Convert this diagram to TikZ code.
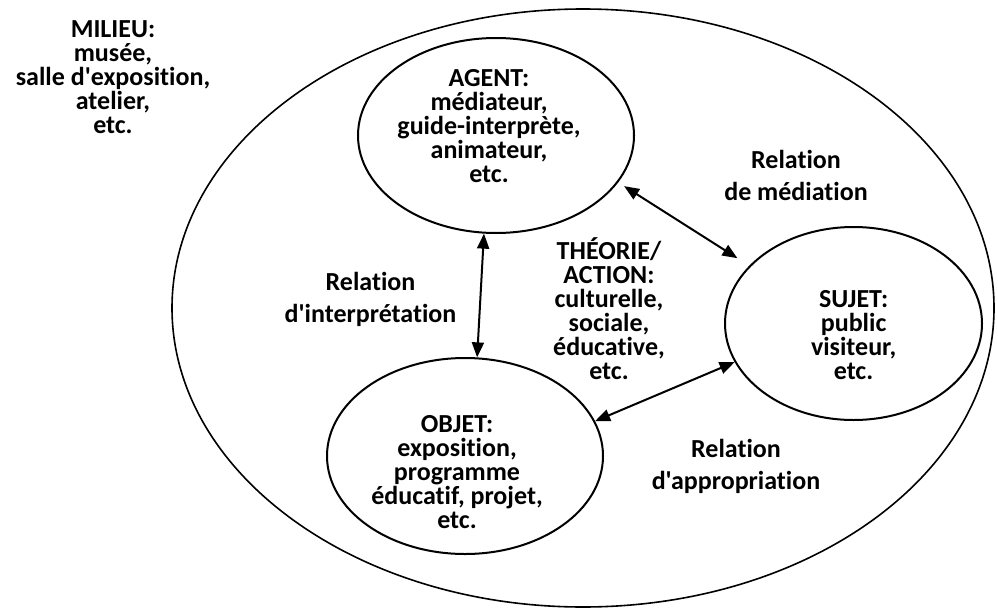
\documentclass[tikz,border=0pt]{standalone}
\usepackage{fontspec}
\setmainfont{Carlito}[Ligatures={TeXOff,CommonOff}]
\usetikzlibrary{shapes.geometric,arrows.meta}
\begin{document}
\begin{tikzpicture}[x=1pt,y=-1pt,
	cercle/.style={draw,ellipse,line width=2pt,inner sep=0pt},
	bloc/.style={align=center,inner sep=0pt,font=\bfseries\fontsize{26}{24}\selectfont},
	relation/.style={align=center,inner sep=0pt,font=\bfseries\fontsize{26}{32}\selectfont},
	lien/.style={{Triangle[length=15pt,width=12pt]}-{Triangle[length=15pt,width=12pt]},line width=2pt}]
\useasboundingbox (0,0) rectangle (998,610);
\node[cercle,line width=1.6pt,minimum width=822pt,minimum height=598pt] (milieu) at (583,308) {};
\node[cercle,minimum width=276pt,minimum height=195pt] (agent) at (496,135.5) {};
\node[cercle,minimum width=257pt,minimum height=193pt] (sujet) at (853.5,323.5) {};
\node[cercle,minimum width=276pt,minimum height=196pt] (objet) at (465,456) {};
\node[bloc] (milieutxt) at (113,77.5) {MILIEU:\\musée,\\salle d'exposition,\\atelier,\\etc.};
\node[bloc] (agenttxt) at (489,126) {AGENT:\\médiateur,\\guide-interprète,\\animateur,\\etc.};
\node[bloc] (sujettxt) at (853.6,335.5) {SUJET:\\public\\visiteur,\\etc.};
\node[bloc] (objettxt) at (457,472) {OBJET:\\exposition,\\programme\\éducatif, projet,\\etc.};
\node[bloc] (theorie) at (609,308.5) {THÉORIE/\\ACTION:\\culturelle,\\sociale,\\éducative,\\etc.};
\node[relation] (mediation) at (796,175.5) {Relation\\de médiation};
\node[relation] (interpretation) at (370.5,299) {Relation\\d'interprétation};
\node[relation] (appropriation) at (736,466) {Relation\\d'appropriation};
\draw[lien,shorten <=7pt,shorten >=14pt] (agent.-21.7) -- (sujet.151.4);
\draw[lien] (agent.-97.5) -- (objet.83.5);
\draw[lien] (sujet.198.3) -- (objet.15.6);
\end{tikzpicture}
\end{document}
